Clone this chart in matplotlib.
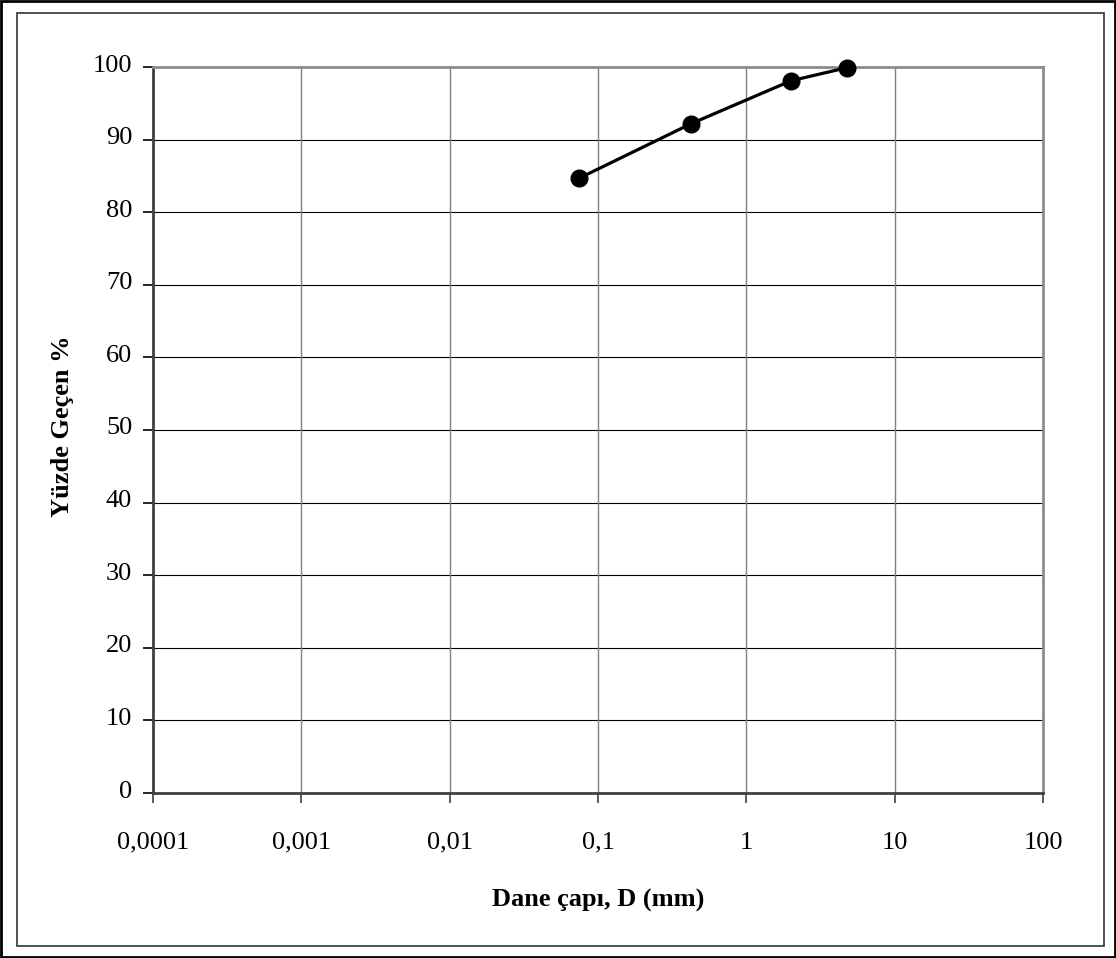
import matplotlib
matplotlib.use("Agg")
import matplotlib.pyplot as plt
import matplotlib.transforms as mtransforms
from matplotlib.patches import Rectangle

# sieve analysis data (grain size vs. percent passing)
grain_size = [0.075, 0.425, 2.0, 4.75]
passing = [84.7, 92.2, 98.1, 99.9]

x_ticks = [0.0001, 0.001, 0.01, 0.1, 1, 10, 100]
x_tick_labels = ["0,0001", "0,001", "0,01", "0,1", "1", "10", "100"]
y_ticks = [0, 10, 20, 30, 40, 50, 60, 70, 80, 90, 100]

plt.rcParams["font.family"] = ["Liberation Serif", "DejaVu Serif"]

W, H = 1116, 958
fig = plt.figure(figsize=(W / 100, H / 100), dpi=100)
ax = fig.add_axes([153 / W, 1 - 793 / H, (1043 - 153) / W, (793 - 67) / H])

ax.set_xscale("log")
ax.set_xlim(x_ticks[0], x_ticks[-1])
ax.set_ylim(0, 100)

# gridlines: horizontal black, vertical gray
for yv in y_ticks[1:-1]:
    ax.axhline(yv, color="black", lw=0.8, zorder=1)
for xv in x_ticks[1:-1]:
    ax.axvline(xv, color="#808080", lw=1.0, zorder=1)

ax.plot(grain_size, passing, color="black", lw=2.3, marker="o",
        markersize=12, markerfacecolor="black", zorder=3, clip_on=False)

ax.set_xticks(x_ticks)
ax.set_xticklabels(x_tick_labels)
ax.minorticks_off()
ax.set_yticks(y_ticks)
ax.set_yticklabels([str(v) for v in y_ticks])
ax.tick_params(axis="x", direction="out", length=7, width=1.2, color="#404040",
               labelsize=19, pad=21)
ax.tick_params(axis="y", direction="out", length=7, width=1.2, color="black",
               labelsize=19, pad=8)

# y labels sit slightly above their ticks in the original
shift = mtransforms.ScaledTranslation(0, 4 / 100, fig.dpi_scale_trans)
for lbl in ax.get_yticklabels():
    lbl.set_transform(lbl.get_transform() + shift)

for side in ["left", "bottom"]:
    ax.spines[side].set_color("#404040")
    ax.spines[side].set_linewidth(2.0)
for side in ["top", "right"]:
    ax.spines[side].set_color("#8c8c8c")
    ax.spines[side].set_linewidth(2.0)

fig.text(63 / W, 1 - 426 / H, "Yüzde Geçen %", rotation=90, fontsize=19,
         fontweight="bold", ha="center", va="center")
fig.text(598 / W, 1 - 900 / H, "Dane çapı, D (mm)", fontsize=19,
         fontweight="bold", ha="center", va="center")

# outer and inner frames
fig.patches.append(Rectangle((1 / W, 1 / H), (W - 2) / W, (H - 2) / H,
                             transform=fig.transFigure, fill=False,
                             edgecolor="black", lw=2.0))
fig.patches.append(Rectangle((17 / W, 1 - 946 / H), (1104 - 17) / W, (946 - 13) / H,
                             transform=fig.transFigure, fill=False,
                             edgecolor="#333333", lw=1.2))

fig.savefig("out.png", dpi=100)
